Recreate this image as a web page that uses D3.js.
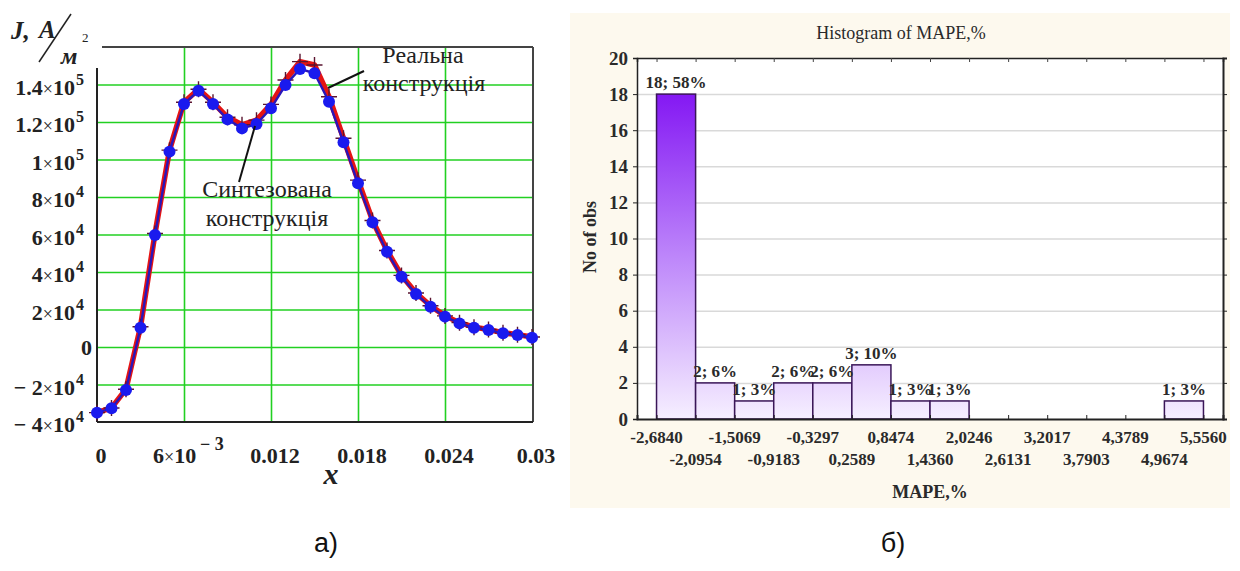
<!DOCTYPE html>
<html><head><meta charset="utf-8">
<script src="https://cdn.jsdelivr.net/npm/d3@7"></script>
<style>body{margin:0;background:#fff} svg{display:block}</style>
</head><body>
<svg id="c" width="1240" height="571"></svg>
<script>
// ---------- Chart a) data ----------
const xVals = [0,0.001,0.002,0.003,0.004,0.005,0.006,0.007,0.008,0.009,0.010,0.011,0.012,0.013,0.014,0.015,0.016,0.017,0.018,0.019,0.020,0.021,0.022,0.023,0.024,0.025,0.026,0.027,0.028,0.029,0.030];
const synthJ = [-35000,-32700,-22900,10300,59700,104200,129600,136700,129600,121400,116600,118900,127300,139700,148300,146000,130800,109200,87300,66500,50800,37500,28300,21500,16200,12600,10300,9100,7300,6400,5000];
const realJ  = [-35000,-32500,-22500,10800,60500,105000,130500,137500,130500,122500,118500,121000,129400,142400,152200,150400,133500,111300,89000,67500,51500,38200,28800,22000,16600,13000,10600,9300,7600,6600,5300];
const yTickVals = [-40000,-20000,0,20000,40000,60000,80000,100000,120000,140000];
const yTickMant = ["\u2212 4","\u2212 2","0","2","4","6","8","1","1.2","1.4"];
const yTickExp  = ["4","4","","4","4","4","4","5","5","5"];
const xTickVals = [0,0.006,0.012,0.018,0.024,0.03];
const xTickText = ["0","6","0.012","0.018","0.024","0.03"];
const xTickExp  = ["","\u2212 3","","","",""];

// ---------- Chart б) data ----------
const binEdges = [-2.6840,-2.0954,-1.5069,-0.9183,-0.3297,0.2589,0.8474,1.4360,2.0246,2.6131,3.2017,3.7903,4.3789,4.9674,5.5560];
const binEdgeLabels = ["-2,6840","-2,0954","-1,5069","-0,9183","-0,3297","0,2589","0,8474","1,4360","2,0246","2,6131","3,2017","3,7903","4,3789","4,9674","5,5560"];
const binCounts = [18,2,1,2,2,3,1,1,0,0,0,0,0,1];
const countTicks = [0,2,4,6,8,10,12,14,16,18,20];

const svg = d3.select('#c');
const serif = "'Liberation Serif','Times New Roman',serif";

// ================= Chart a) =================
const xs = d3.scaleLinear().domain([0,0.03]).range([97,532]);
const ys = d3.scaleLinear().domain([-40000,160000]).range([422,47]);
const ga = svg.append('g');

// grid
const gridY = ga.append('g').attr('transform','translate(97,0)')
  .call(d3.axisLeft(ys).tickValues(yTickVals.filter(v=>v>-40000)).tickSize(-435).tickFormat(''));
gridY.select('.domain').remove();
gridY.selectAll('line').attr('stroke','#22d022').attr('stroke-width',1.6);
const gridX = ga.append('g').attr('transform','translate(0,422)')
  .call(d3.axisBottom(xs).tickValues(xTickVals.filter(v=>v>0 && v<0.03)).tickSize(-375).tickFormat(''));
gridX.select('.domain').remove();
gridX.selectAll('line').attr('stroke','#22d022').attr('stroke-width',1.6);

// frame
ga.append('line').attr('x1',102).attr('x2',533).attr('y1',47).attr('y2',47).attr('stroke','#444').attr('stroke-width',2);
ga.append('line').attr('x1',533).attr('x2',533).attr('y1',47).attr('y2',422).attr('stroke','#444').attr('stroke-width',2);
ga.append('line').attr('x1',97).attr('x2',533).attr('y1',422).attr('y2',422).attr('stroke','#222').attr('stroke-width',2);
ga.append('line').attr('x1',97).attr('x2',97).attr('y1',68).attr('y2',422).attr('stroke','#222').attr('stroke-width',2);

// curves
const lineGen = d3.line().x((d,i)=>xs(xVals[i])).y(d=>ys(d));
ga.append('path').datum(realJ).attr('d',lineGen).attr('fill','none')
  .attr('stroke','#e41414').attr('stroke-width',5.5).attr('stroke-linejoin','round');
ga.selectAll('path.cross').data(realJ).join('path').attr('class','cross')
  .attr('d',(d,i)=>{const x=xs(xVals[i]), y=ys(d); return `M${x-8},${y}h16M${x},${y-8}v16`;})
  .attr('stroke','#5a1430').attr('stroke-width',1.4);
ga.append('path').datum(synthJ).attr('d',lineGen).attr('fill','none')
  .attr('stroke','#2a16b8').attr('stroke-width',2.4);
ga.selectAll('circle.pt').data(synthJ).join('circle').attr('class','pt')
  .attr('cx',(d,i)=>xs(xVals[i])).attr('cy',d=>ys(d)).attr('r',6).attr('fill','#1a1aee');

// y tick labels
yTickVals.forEach((v,i)=>{
  const y = ys(v);
  if(yTickExp[i]===""){
    ga.append('text').attr('x',92).attr('y',y+8).attr('text-anchor','end')
      .attr('font-family',serif).attr('font-weight','bold').attr('font-size',22).attr('fill','#222').text(yTickMant[i]);
  } else {
    const t = ga.append('text').attr('x',75).attr('y',y+10).attr('text-anchor','end')
      .attr('font-family',serif).attr('font-weight','bold').attr('font-size',22).attr('fill','#222');
    t.append('tspan').text(yTickMant[i]);
    t.append('tspan').attr('font-weight','normal').attr('font-size',18).text('\u00d7');
    t.append('tspan').text('10');
    ga.append('text').attr('x',76).attr('y',y).attr('font-family',serif).attr('font-weight','bold')
      .attr('font-size',16).attr('fill','#222').text(yTickExp[i]);
  }
});
// x tick labels
xTickVals.forEach((v,i)=>{
  const x = xs(v)+4;
  if(xTickExp[i]===""){
    ga.append('text').attr('x',x).attr('y',463).attr('text-anchor','middle')
      .attr('font-family',serif).attr('font-weight','bold').attr('font-size',22).attr('fill','#222').text(xTickText[i]);
  } else {
    const t = ga.append('text').attr('x',x-35).attr('y',463)
      .attr('font-family',serif).attr('font-weight','bold').attr('font-size',22).attr('fill','#222');
    t.append('tspan').text(xTickText[i]);
    t.append('tspan').attr('font-weight','normal').attr('font-size',18).text('\u00d7');
    t.append('tspan').text('10');
    ga.append('text').attr('x',x+12).attr('y',450).attr('font-family',serif).attr('font-weight','bold')
      .attr('font-size',18).attr('fill','#222').text(xTickExp[i]);
  }
});
// axis titles
ga.append('text').attr('x',331).attr('y',484).attr('text-anchor','middle').attr('font-family',serif)
  .attr('font-style','italic').attr('font-weight','bold').attr('font-size',30).attr('fill','#222').text('x');
ga.append('text').attr('x',11).attr('y',39).attr('font-family',serif).attr('font-style','italic')
  .attr('font-weight','bold').attr('font-size',25).attr('fill','#222').text('J,');
ga.append('text').attr('x',39).attr('y',38).attr('font-family',serif).attr('font-style','italic')
  .attr('font-weight','bold').attr('font-size',25).attr('fill','#222').text('A');
ga.append('line').attr('x1',39).attr('y1',62).attr('x2',71).attr('y2',14).attr('stroke','#222').attr('stroke-width',1.5);
ga.append('text').attr('x',61).attr('y',64).attr('font-family',serif).attr('font-style','italic')
  .attr('font-weight','bold').attr('font-size',24).attr('fill','#222').text('м');
ga.append('text').attr('x',82).attr('y',42).attr('font-family',serif)
  .attr('font-size',13).attr('fill','#222').text('2');

// annotations
ga.append('text').attr('x',267).attr('y',197).attr('text-anchor','middle').attr('font-family',serif)
  .attr('font-size',24).attr('fill','#222').text('Синтезована');
ga.append('text').attr('x',267).attr('y',226).attr('text-anchor','middle').attr('font-family',serif)
  .attr('font-size',24).attr('fill','#222').text('конструкція');
ga.append('line').attr('x1',239).attr('y1',182).attr('x2',255).attr('y2',126).attr('stroke','#111').attr('stroke-width',2);
ga.append('text').attr('x',423).attr('y',63).attr('text-anchor','middle').attr('font-family',serif)
  .attr('font-size',24).attr('fill','#222').text('Реальна');
ga.append('text').attr('x',424).attr('y',91).attr('text-anchor','middle').attr('font-family',serif)
  .attr('font-size',24).attr('fill','#222').text('конструкція');
ga.append('line').attr('x1',364).attr('y1',71).attr('x2',328).attr('y2',88).attr('stroke','#111').attr('stroke-width',2);

// ================= Chart б) =================
const gb = svg.append('g');
gb.append('rect').attr('x',570).attr('y',13).attr('width',660).attr('height',495).attr('fill','#fdf9ee');
const bw = binEdges[1]-binEdges[0];
const hx = d3.scaleLinear().domain([binEdges[0]-bw/2, binEdges[binEdges.length-1]+bw/2]).range([637,1223]);
const hy = d3.scaleLinear().domain([0,20]).range([419,58]);
gb.append('rect').attr('x',637).attr('y',58).attr('width',586).attr('height',361).attr('fill','#fff');

const defs = svg.append('defs');
const grad = defs.append('linearGradient').attr('id','barGrad').attr('gradientUnits','userSpaceOnUse')
  .attr('x1',0).attr('x2',0).attr('y1',hy(0)).attr('y2',hy(18));
grad.append('stop').attr('offset','0').attr('stop-color','#f6efff');
grad.append('stop').attr('offset','0.5').attr('stop-color','#bd86fa');
grad.append('stop').attr('offset','1').attr('stop-color','#8418f3');

const hgrid = gb.append('g').attr('transform','translate(637,0)')
  .call(d3.axisLeft(hy).tickValues(countTicks.filter(v=>v>0&&v<20)).tickSize(-586).tickFormat(''));
hgrid.select('.domain').remove();
hgrid.selectAll('line').attr('stroke','#d9d9d9').attr('stroke-width',1.5);

const total = d3.sum(binCounts);
const bars = binCounts.map((c,i)=>({c, x0:binEdges[i], x1:binEdges[i+1]})).filter(d=>d.c>0);
gb.selectAll('rect.bar').data(bars).join('rect').attr('class','bar')
  .attr('x',d=>hx(d.x0)).attr('width',d=>hx(d.x1)-hx(d.x0))
  .attr('y',d=>hy(d.c)).attr('height',d=>hy(0)-hy(d.c))
  .attr('fill','url(#barGrad)').attr('stroke','#3a1658').attr('stroke-width',1.5);
gb.selectAll('text.bl').data(bars).join('text').attr('class','bl')
  .attr('x',d=>(hx(d.x0)+hx(d.x1))/2).attr('y',d=>hy(d.c)-6).attr('text-anchor','middle')
  .attr('font-family',serif).attr('font-weight','bold').attr('font-size',17).attr('fill','#2a2a2a')
  .text(d=>`${d.c}; ${Math.round(d.c/total*100)}%`);

// frame + ticks
const axL = gb.append('g').attr('transform','translate(637,0)')
  .call(d3.axisLeft(hy).tickValues(countTicks).tickSize(4).tickPadding(5).tickFormat(d3.format('d')));
axL.select('.domain').attr('stroke','#222').attr('stroke-width',1.5);
axL.selectAll('line').attr('stroke','#222');
axL.selectAll('text').attr('font-family',serif).attr('font-weight','bold').attr('font-size',19).attr('fill','#2a2a2a');
const axR = gb.append('g').attr('transform','translate(1223,0)')
  .call(d3.axisRight(hy).tickValues(countTicks).tickSize(4).tickFormat(''));
axR.select('.domain').attr('stroke','#222').attr('stroke-width',2);
axR.selectAll('line').attr('stroke','#222');
const axT = gb.append('g').attr('transform','translate(0,58)')
  .call(d3.axisTop(hx).tickValues(binEdges).tickSize(-4).tickFormat(''));
axT.select('.domain').attr('stroke','#222').attr('stroke-width',1.5);
axT.selectAll('line').attr('stroke','#444');
const axB = gb.append('g').attr('transform','translate(0,419)')
  .call(d3.axisBottom(hx).tickValues(binEdges).tickSize(-4).tickFormat(''));
axB.select('.domain').attr('stroke','#222').attr('stroke-width',2);
axB.selectAll('line').attr('stroke','#222');

gb.selectAll('text.el').data(binEdges).join('text').attr('class','el')
  .attr('x',d=>hx(d)).attr('y',(d,i)=>i%2===0?443:465).attr('text-anchor','middle')
  .attr('font-family',serif).attr('font-weight','bold').attr('font-size',17).attr('fill','#2a2a2a')
  .text((d,i)=>binEdgeLabels[i]);

gb.append('text').attr('x',901).attr('y',39).attr('text-anchor','middle').attr('font-family',serif)
  .attr('font-size',18).attr('fill','#2a2a2a').text('Histogram of MAPE,%');
gb.append('text').attr('x',930).attr('y',498).attr('text-anchor','middle').attr('font-family',serif)
  .attr('font-weight','bold').attr('font-size',18).attr('fill','#2a2a2a').text('MAPE,%');
gb.append('text').attr('transform','translate(596,237) rotate(-90)').attr('text-anchor','middle')
  .attr('font-family',serif).attr('font-weight','bold').attr('font-size',18).attr('fill','#2a2a2a').text('No of obs');

// panel labels
svg.append('text').attr('x',326).attr('y',552).attr('text-anchor','middle').attr('font-family',"'Liberation Sans',Arial,sans-serif")
  .attr('font-size',27).attr('fill','#111').text('а)');
svg.append('text').attr('x',893).attr('y',552).attr('text-anchor','middle').attr('font-family',"'Liberation Sans',Arial,sans-serif")
  .attr('font-size',27).attr('fill','#111').text('б)');
</script>
</body></html>
